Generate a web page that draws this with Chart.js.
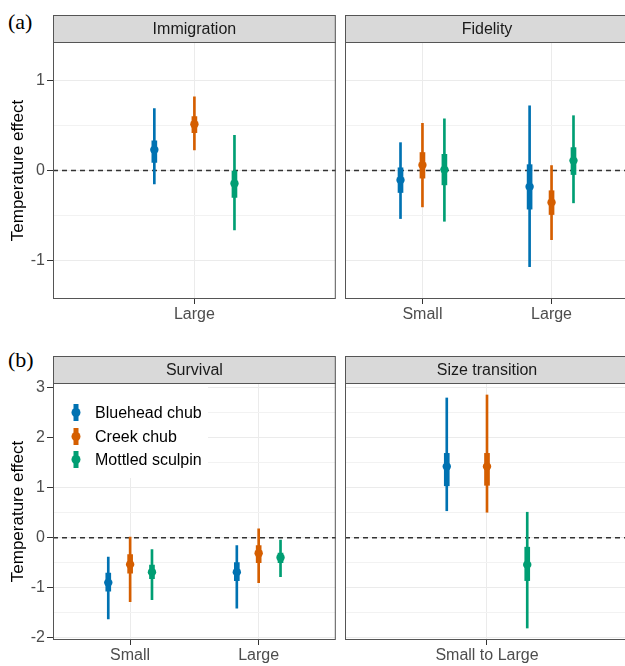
<!DOCTYPE html>
<html>
<head>
<meta charset="utf-8">
<script src="https://cdn.jsdelivr.net/npm/chart.js@4.4.0/dist/chart.umd.min.js"></script>
<style>
html, body { margin:0; padding:0; background:#fff; overflow:hidden; }
#page { position:relative; width:625px; height:666px; }
canvas { position:absolute; }
.lettre { position:absolute; font-family:"Liberation Serif", serif; font-size:22px; line-height:22px; color:#000; }
</style>
</head>
<body>
<div id="page">
<div class="lettre" style="left:8px;top:11px">(a)</div>
<div class="lettre" style="left:8px;top:349px">(b)</div>
<canvas id="immigration" width="340" height="335" style="left:0;top:0"></canvas>
<canvas id="fidelity" width="295" height="335" style="left:340px;top:0"></canvas>
<canvas id="survival" width="340" height="331" style="left:0;top:335px"></canvas>
<canvas id="transition" width="295" height="331" style="left:340px;top:335px"></canvas>
</div>
<script>
//Espèces et couleurs
var especes = ['Bluehead chub', 'Creek chub', 'Mottled sculpin'];
var couleurs = ['#0072B2', '#D55E00', '#009E73'];

//Immigration (une ligne par espèce)
var immigrationStades = ['Large'];
var immigrationMed = [[0.23], [0.515], [-0.145]];
var immigrationInBas = [[0.09], [0.42], [-0.30]];
var immigrationInHaut = [[0.33], [0.60], [0.0]];
var immigrationExtBas = [[-0.15], [0.23], [-0.66]];
var immigrationExtHaut = [[0.69], [0.82], [0.39]];

//Fidelity
var fidelityStades = ['Small', 'Large'];
var fidelityMed = [[-0.107, -0.18], [0.06, -0.355], [0.01, 0.11]];
var fidelityInBas = [[-0.245, -0.43], [-0.085, -0.49], [-0.16, -0.045]];
var fidelityInHaut = [[0.03, 0.065], [0.2, -0.225], [0.18, 0.255]];
var fidelityExtBas = [[-0.535, -1.07], [-0.405, -0.77], [-0.565, -0.36]];
var fidelityExtHaut = [[0.31, 0.72], [0.525, 0.055], [0.575, 0.61]];

//Survival
var survivalStades = ['Small', 'Large'];
var survivalMed = [[-0.9, -0.69], [-0.535, -0.31], [-0.69, -0.395]];
var survivalInBas = [[-1.07, -0.86], [-0.71, -0.5], [-0.82, -0.5]];
var survivalInHaut = [[-0.71, -0.5], [-0.34, -0.16], [-0.55, -0.31]];
var survivalExtBas = [[-1.63, -1.41], [-1.28, -0.9], [-1.24, -0.78]];
var survivalExtHaut = [[-0.39, -0.16], [0.01, 0.18], [-0.24, -0.05]];

//Size transition
var transitionStades = ['Small to Large'];
var transitionMed = [[1.425], [1.425], [-0.54]];
var transitionInBas = [[1.04], [1.05], [-0.86]];
var transitionInHaut = [[1.69], [1.69], [-0.19]];
var transitionExtBas = [[0.54], [0.51], [-1.81]];
var transitionExtHaut = [[2.8], [2.86], [0.51]];

//Graduations des axes Y
var ticksA = [-1, -0.5, 0, 0.5, 1];
var ticksB = [-2, -1.5, -1, -0.5, 0, 0.5, 1, 1.5, 2, 2.5, 3];

Chart.defaults.font.family = '"Liberation Sans", Arial, sans-serif';
Chart.defaults.font.size = 16;
Chart.defaults.color = '#4D4D4D';

var dodge = 0.17;
var hauteurBandeau = 27;

//Légende dessinée dans le panneau Survival
function dessinerLegende(ctx, a) {
    ctx.save();
    ctx.fillStyle = '#fff';
    ctx.fillRect(a.left + 1, a.top + 1, 154, 94);
    var rangs = [29.5, 53.5, 76.5];
    for (var s = 0; s < especes.length; s++) {
        var x = a.left + 23, y = a.top + rangs[s];
        ctx.strokeStyle = couleurs[s];
        ctx.lineWidth = 5;
        ctx.beginPath();
        ctx.moveTo(x, y - 8.5);
        ctx.lineTo(x, y + 8.5);
        ctx.stroke();
        ctx.fillStyle = couleurs[s];
        ctx.beginPath();
        ctx.arc(x, y, 4.5, 0, Math.PI * 2);
        ctx.fill();
        ctx.fillStyle = '#000';
        ctx.font = '16px "Liberation Sans", Arial, sans-serif';
        ctx.textBaseline = 'middle';
        ctx.textAlign = 'left';
        ctx.fillText(especes[s], a.left + 42, y + 1);
    }
    ctx.restore();
}

//Plugin : ligne zéro, bandeau de titre et bordure du panneau
var decorPanneau = {
    id: 'decorPanneau',
    beforeDatasetsDraw: function(chart, args, opts) {
        var ctx = chart.ctx;
        var a = chart.chartArea;
        var y0 = chart.scales.y.getPixelForValue(0);
        ctx.save();
        ctx.strokeStyle = '#333';
        ctx.lineWidth = 1.5;
        ctx.setLineDash([5, 4]);
        ctx.beginPath();
        ctx.moveTo(a.left, y0);
        ctx.lineTo(a.right, y0);
        ctx.stroke();
        ctx.restore();
        if (opts.legende) {
            dessinerLegende(ctx, a);
        }
    },
    afterDraw: function(chart, args, opts) {
        var ctx = chart.ctx;
        var a = chart.chartArea;
        var w = a.right - a.left;
        ctx.save();
        ctx.fillStyle = '#D9D9D9';
        ctx.fillRect(a.left, a.top - hauteurBandeau, w, hauteurBandeau);
        ctx.strokeStyle = '#555';
        ctx.lineWidth = 1;
        ctx.strokeRect(a.left + 0.5, a.top - hauteurBandeau + 0.5, w - 1, hauteurBandeau);
        ctx.strokeRect(a.left + 0.5, a.top + 0.5, w - 1, a.bottom - a.top - 1);
        ctx.fillStyle = '#1A1A1A';
        ctx.font = '16px "Liberation Sans", Arial, sans-serif';
        ctx.textAlign = 'center';
        ctx.textBaseline = 'middle';
        ctx.fillText(opts.titre, a.left + w / 2, a.top - hauteurBandeau / 2 + 1);
        ctx.restore();
    }
};

//Création d'un panneau (une facette)
function creerPanneau(id, titre, stades, med, inBas, inHaut, extBas, extHaut, ticksY, yMin, yMax, config) {
    var datasets = [];
    for (var s = 0; s < especes.length; s++) {
        var dx = (s - 1) * dodge;
        var pts = [], epais = [], fins = [];
        for (var i = 0; i < stades.length; i++) {
            var x = i + 1 + dx;
            pts.push({x: x, y: med[s][i]});
            epais.push({x: x, y: [inBas[s][i], inHaut[s][i]]});
            fins.push({x: x, y: [extBas[s][i], extHaut[s][i]]});
        }
        datasets.push({type: 'scatter', data: pts, backgroundColor: couleurs[s], borderWidth: 0, pointRadius: 4.2, order: 0});
        datasets.push({type: 'bar', data: epais, backgroundColor: couleurs[s], barThickness: 5, grouped: false, borderWidth: 0, order: 1});
        datasets.push({type: 'bar', data: fins, backgroundColor: couleurs[s], barThickness: 2, grouped: false, borderWidth: 0, order: 2});
    }
    var gauche = config.gauche;
    new Chart(document.getElementById(id), {
        type: 'bar',
        data: {datasets: datasets},
        plugins: [decorPanneau],
        options: {
            responsive: false,
            animation: false,
            events: [],
            layout: {padding: {top: config.haut, right: config.droite, left: 0, bottom: 0}},
            plugins: {
                legend: {display: false},
                tooltip: {enabled: false},
                decorPanneau: {titre: titre, legende: config.legende}
            },
            scales: {
                x: {
                    type: 'linear',
                    offset: false,
                    min: 0.4,
                    max: stades.length + 0.6,
                    afterBuildTicks: function(scale) {
                        scale.ticks = stades.map(function(s, i) { return {value: i + 1}; });
                    },
                    afterFit: function(scale) { scale.height = config.basX; },
                    ticks: {
                        autoSkip: false,
                        maxRotation: 0,
                        padding: 1,
                        color: '#4D4D4D',
                        callback: function(v) { return stades[Math.round(v) - 1]; }
                    },
                    grid: {offset: false, color: '#EBEBEB', lineWidth: 1, tickColor: '#333', tickLength: 5, tickWidth: 1},
                    border: {display: false}
                },
                y: {
                    type: 'linear',
                    min: yMin,
                    max: yMax,
                    afterBuildTicks: function(scale) {
                        scale.ticks = ticksY.map(function(v) { return {value: v}; });
                    },
                    afterFit: function(scale) { scale.width = gauche ? 53 : 5; },
                    ticks: {
                        display: gauche,
                        autoSkip: false,
                        padding: 2,
                        color: '#4D4D4D',
                        callback: function(v) { return Number.isInteger(v) ? String(v) : ''; }
                    },
                    grid: {
                        drawTicks: gauche,
                        tickLength: 6,
                        tickWidth: 1,
                        color: function(c) { return c.tick && Number.isInteger(c.tick.value) ? '#EBEBEB' : '#F2F2F2'; },
                        tickColor: function(c) { return c.tick && Number.isInteger(c.tick.value) ? '#333' : 'rgba(0,0,0,0)'; }
                    },
                    border: {display: false},
                    title: {
                        display: gauche,
                        text: 'Temperature effect',
                        color: '#000',
                        font: {size: 17},
                        padding: {top: 8, bottom: 0}
                    }
                }
            }
        }
    });
}

creerPanneau('immigration', 'Immigration', immigrationStades, immigrationMed, immigrationInBas, immigrationInHaut, immigrationExtBas, immigrationExtHaut, ticksA, -1.43, 1.43, {gauche: true, haut: 42, droite: 4, basX: 36});
creerPanneau('fidelity', 'Fidelity', fidelityStades, fidelityMed, fidelityInBas, fidelityInHaut, fidelityExtBas, fidelityExtHaut, ticksA, -1.43, 1.43, {gauche: false, haut: 42, droite: 6, basX: 36});
creerPanneau('survival', 'Survival', survivalStades, survivalMed, survivalInBas, survivalInHaut, survivalExtBas, survivalExtHaut, ticksB, -2.05, 3.1, {gauche: true, haut: 48, droite: 4, basX: 26, legende: true});
creerPanneau('transition', 'Size transition', transitionStades, transitionMed, transitionInBas, transitionInHaut, transitionExtBas, transitionExtHaut, ticksB, -2.05, 3.1, {gauche: false, haut: 48, droite: 6, basX: 26});
</script>
</body>
</html>
